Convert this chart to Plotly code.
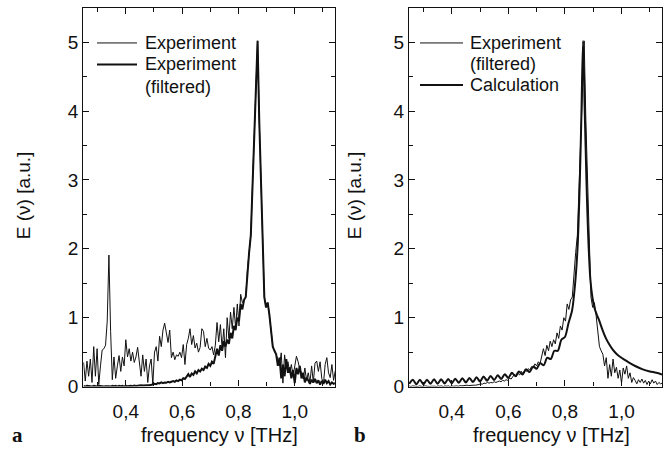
import plotly.graph_objects as go

W, H = 669, 462

# ---- data ----
freq_start = 0.25
freq_step = 0.006

# raw experiment (panel a, thin)
exp_raw = [
    0.35, 0.08, 0.37, 0.15, 0.40, 0.06, 0.58, 0.15, 0.55, 0.03,
    0.30, 0.53, 0.55, 0.60, 0.95, 1.91, 0.80, 0.10,
    0.43, 0.12, 0.30, 0.45, 0.22, 0.43, 0.30, 0.68, 0.43, 0.55,
    0.37, 0.50, 0.35, 0.43, 0.57, 0.30, 0.15, 0.46, 0.22, 0.40,
    0.06, 0.30, 0.40, 0.03, 0.50, 0.58, 0.37, 0.73, 0.58, 0.82,
    0.92, 0.78, 0.64, 0.82,
    0.42, 0.50, 0.39, 0.46, 0.44, 0.50, 0.42, 0.61, 0.32, 0.61,
    0.70, 0.84, 0.61, 0.74, 0.56, 0.63, 0.50, 0.57, 0.84, 0.80,
    0.58, 0.70, 0.56, 0.53, 0.58, 0.46, 0.60, 0.93, 0.65, 0.90,
    0.55, 0.84, 0.42, 1.00, 0.70, 1.08, 0.84, 1.15, 0.85, 1.20,
    0.88, 1.34, 1.22, 1.25, 1.30,
    1.70, 1.95, 2.20, 2.94, 3.67, 4.41, 5.02, 3.86, 2.86, 1.90,
    1.30, 1.15, 1.22, 1.04, 0.80, 0.58, 0.52, 0.47,
    0.40, 0.30, 0.49, 0.05, 0.46, 0.26, 0.36, 0.20, 0.32, 0.15,
    0.28, 0.44, 0.36, 0.25, 0.20, 0.11, 0.27, 0.09, 0.20, 0.06,
    0.30, 0.06, 0.34, 0.37, 0.22, 0.36, 0.12, 0.04, 0.32, 0.42,
    0.20, 0.13, 0.32, 0.09, 0.23,
]

# filtered experiment (panel a thick, panel b thin)
exp_filtered = [
    0.01, 0.00, 0.01, 0.005, 0.01, 0.00, 0.01, 0.005, 0.00, 0.01,
    0.005, 0.01, 0.00, 0.005, 0.01, 0.005, 0.00, 0.01, 0.005, 0.01,
    0.00, 0.01, 0.005, 0.01, 0.00, 0.01, 0.005, 0.01, 0.01, 0.005,
    0.015, 0.01, 0.015, 0.01, 0.02, 0.015, 0.02, 0.015, 0.02,
    0.02, 0.02, 0.03, 0.04, 0.035, 0.05, 0.045, 0.06, 0.05, 0.06,
    0.055, 0.07, 0.06, 0.07, 0.08, 0.07, 0.09, 0.08, 0.10, 0.09,
    0.12, 0.11, 0.15, 0.18, 0.14, 0.19, 0.17, 0.22, 0.19, 0.24,
    0.22, 0.26, 0.24, 0.29, 0.27, 0.33, 0.30, 0.36, 0.33, 0.42,
    0.55, 0.45, 0.60, 0.52, 0.66, 0.58, 0.68, 0.62, 0.78, 0.70,
    0.88, 0.82, 1.00, 0.95, 1.20, 1.12, 1.26, 1.30,
    1.70, 1.95, 2.20, 2.94, 3.67, 4.41, 5.02, 3.86, 2.86, 1.90,
    1.30, 1.15, 1.22, 1.04, 0.80, 0.58, 0.52, 0.47,
    0.30, 0.42, 0.12, 0.32, 0.15, 0.40, 0.20, 0.28, 0.12, 0.24,
    0.05, 0.27, 0.18, 0.30, 0.12, 0.20, 0.06, 0.13, 0.09, 0.04,
    0.10, 0.06, 0.11, 0.05, 0.09, 0.03, 0.08, 0.04, 0.10, 0.05,
    0.08, 0.03, 0.06, 0.04, 0.05,
]

# calculation (panel b, thick)
calc_freq = [
    0.250, 0.2625, 0.275, 0.2875, 0.300, 0.3125, 0.325, 0.3375, 0.350, 0.3625,
    0.375, 0.3875, 0.400, 0.4125, 0.425, 0.4375, 0.450, 0.4625, 0.475, 0.4875,
    0.500, 0.5125, 0.525, 0.5375, 0.550, 0.5625, 0.575, 0.5875, 0.600, 0.6125,
    0.625, 0.6375, 0.650, 0.6625, 0.675, 0.6875, 0.700, 0.7125, 0.725, 0.7375,
    0.750, 0.7625, 0.775, 0.7875, 0.800, 0.8125, 0.825, 0.835, 0.845, 0.852,
    0.858, 0.864, 0.870, 0.876, 0.882, 0.890, 0.897, 0.904, 0.912, 0.921,
    0.933, 0.945, 0.957, 0.969, 0.980, 0.992, 1.010, 1.028, 1.050, 1.075,
    1.100, 1.123, 1.143,
]
calc_val = [
    0.04, 0.10, 0.035, 0.10, 0.035, 0.10, 0.04, 0.105, 0.04, 0.105,
    0.045, 0.11, 0.05, 0.115, 0.055, 0.12, 0.06, 0.125, 0.065, 0.135,
    0.075, 0.145, 0.085, 0.155, 0.095, 0.165, 0.11, 0.18, 0.125, 0.20,
    0.15, 0.22, 0.175, 0.25, 0.21, 0.29, 0.26, 0.34, 0.31, 0.42,
    0.40, 0.52, 0.52, 0.68, 0.72, 0.92, 1.10, 1.45, 2.05, 2.90,
    3.90, 5.02, 4.00, 3.00, 2.20, 1.55, 1.30, 1.15, 1.05, 0.96,
    0.82, 0.70, 0.61, 0.535, 0.485, 0.44, 0.39, 0.345, 0.295, 0.25,
    0.22, 0.20, 0.175,
]

x_tickvals = [0.4, 0.6, 0.8, 1.0]
x_ticktext = ["0,4", "0,6", "0,8", "1,0"]
y_tickvals = [0, 1, 2, 3, 4, 5]
y_ticktext = ["0", "1", "2", "3", "4", "5"]

freq_raw = [round(freq_start + freq_step * i, 4) for i in range(len(exp_raw))]
freq_filt = [round(freq_start + freq_step * i, 4) for i in range(len(exp_filtered))]

BLACK = "#111111"
FONT = "Liberation Sans, Arial, sans-serif"

fig = go.Figure()
fig.add_trace(go.Scatter(x=freq_raw, y=exp_raw, mode="lines",
                         line=dict(color=BLACK, width=1), xaxis="x", yaxis="y",
                         showlegend=False))
fig.add_trace(go.Scatter(x=freq_filt, y=exp_filtered, mode="lines",
                         line=dict(color=BLACK, width=2), xaxis="x", yaxis="y",
                         showlegend=False))
fig.add_trace(go.Scatter(x=freq_filt, y=exp_filtered, mode="lines",
                         line=dict(color=BLACK, width=1), xaxis="x2", yaxis="y2",
                         showlegend=False))
fig.add_trace(go.Scatter(x=calc_freq, y=calc_val, mode="lines",
                         line=dict(color=BLACK, width=2, shape="spline", smoothing=0.8),
                         xaxis="x2", yaxis="y2", showlegend=False))

def px_x(p):
    return p / W

def px_y(p):
    return 1 - p / H

xr = [0.249, 1.143]
yr = [0, 5.5]
ydom = [px_y(396), px_y(8)]

common_x = dict(range=xr, showline=True, linecolor=BLACK, linewidth=1.3, mirror="ticks",
                ticks="inside", ticklen=6, tickwidth=1.1, tickcolor=BLACK,
                tickvals=x_tickvals, ticktext=x_ticktext, ticklabelstandoff=7,
                tickfont=dict(family=FONT, size=19, color=BLACK),
                showgrid=False, zeroline=False,
                minor=dict(ticks="inside", ticklen=4, tickwidth=1.1, tickcolor=BLACK,
                           dtick=0.1, tick0=0.0, showgrid=False))
common_y = dict(range=yr, showline=True, linecolor=BLACK, linewidth=1.3, mirror="ticks",
                ticks="inside", ticklen=6, tickwidth=1.1, tickcolor=BLACK,
                tickvals=y_tickvals, ticktext=y_ticktext,
                tickfont=dict(family=FONT, size=19, color=BLACK),
                showgrid=False, zeroline=False,
                minor=dict(ticks="inside", ticklen=4, tickwidth=1.1, tickcolor=BLACK,
                           dtick=0.5, tick0=0.0, showgrid=False))

fig.update_layout(
    width=W, height=H, margin=dict(l=0, r=0, t=0, b=0),
    paper_bgcolor="white", plot_bgcolor="white",
    xaxis=dict(domain=[px_x(83.3), px_x(335)], anchor="y", **common_x),
    yaxis=dict(domain=ydom, anchor="x", **common_y),
    xaxis2=dict(domain=[px_x(409), px_x(662)], anchor="y2", **common_x),
    yaxis2=dict(domain=ydom, anchor="x2", **common_y),
)

ann = []
def text(x, y, s, size=18, xanchor="left", family=FONT, angle=0, bold=False):
    ann.append(dict(x=px_x(x), y=px_y(y), xref="paper", yref="paper", text=("<b>%s</b>" % s if bold else s),
                    showarrow=False, xanchor=xanchor, yanchor="middle", textangle=angle,
                    font=dict(family=family, size=size, color=BLACK)))

# axis titles
text(219, 446, "frequency ν [THz]", size=20, xanchor="center")
text(551, 446, "frequency ν [THz]", size=20, xanchor="center")
text(23, 200, "E (ν) [a.u.]", size=19, xanchor="center", angle=-90)
text(354, 200, "E (ν) [a.u.]", size=19, xanchor="center", angle=-90)
# panel letters
text(17, 446, "a", size=21, xanchor="center", family="Liberation Serif, Times New Roman, serif", bold=True)
text(360, 446, "b", size=21, xanchor="center", family="Liberation Serif, Times New Roman, serif", bold=True)
# legend texts
text(143, 44, "Experiment")
text(143, 66, "Experiment")
text(143, 89, "(filtered)")
text(468, 44, "Experiment")
text(468, 66, "(filtered)")
text(468, 87, "Calculation")

shapes = []
def seg(x0, x1, y, w):
    shapes.append(dict(type="line", xref="paper", yref="paper", x0=px_x(x0), x1=px_x(x1),
                       y0=px_y(y), y1=px_y(y), line=dict(color=BLACK, width=w)))
seg(97, 137, 44, 1)
seg(97, 137, 66, 2)
seg(420, 463, 44, 1)
seg(420, 463, 87, 2)

fig.update_layout(annotations=ann, shapes=shapes)
fig.write_html("out.html")
